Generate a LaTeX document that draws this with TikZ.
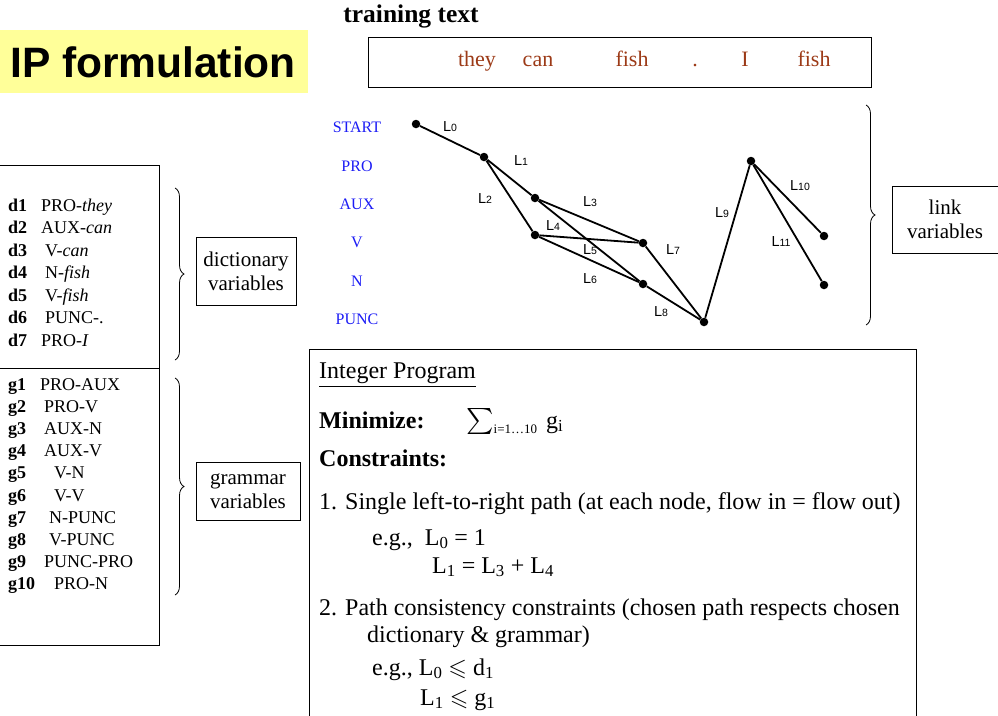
\RequirePackage{fix-cm}
\documentclass[tikz,border=0pt]{standalone}
\usepackage{amssymb}
\usepackage{fontspec}
\setmainfont{Liberation Serif}
\setsansfont{Liberation Sans}
\usetikzlibrary{decorations.pathreplacing}
\definecolor{hilite}{HTML}{FFFF99}
\definecolor{wordred}{HTML}{9C3A17}
\definecolor{tagblue}{HTML}{1C1CF5}
\newcommand{\fsz}[1]{\fontsize{#1}{#1}\selectfont}
\newcommand{\lnk}[1]{L{\fsz{10.5}#1}}

\begin{document}
\begin{tikzpicture}[x=1pt,y=-1pt,
  font=\fsz{18},
  box/.style={draw,line width=0.8pt,inner sep=0pt},
  varbox/.style={draw,line width=0.8pt,align=center,
    font=\fontsize{21}{24}\selectfont},
  wordtxt/.style={anchor=base,text=wordred,font=\fsz{22}},
  tagname/.style={anchor=base,text=tagblue,font=\fsz{16}},
  dot/.style={circle,fill=black,inner sep=0pt,minimum size=8.5pt},
  link/.style={line width=1.8pt},
  linklabel/.style={font=\sffamily\fsz{14.5}},
  bracket/.style={decorate,decoration={brace,amplitude=9pt},line width=0.8pt},
  entry/.style={anchor=base west,inner sep=0pt},
  prog/.style={anchor=base west,inner sep=0pt,font=\fsz{24}}
]
\useasboundingbox (0,0) rectangle (998,715);

% title and training text
\node[fill=hilite,minimum width=308pt,minimum height=63pt,inner sep=0pt] (titlebg) at (154,61.5) {};
\node[anchor=base west,inner sep=0pt,font=\sffamily\bfseries\fsz{42.5}] (title) at (10,77) {IP formulation};
\node[anchor=base,font=\bfseries\fsz{25.5}] (caption) at (411,22) {training text};
\node[box,minimum width=503pt,minimum height=50pt] (textbox) at (619.5,62) {};
\foreach \w/\x [count=\i] in {they/477,can/538,fish/632,./695,I/745,fish/814}
  \node[wordtxt] (w\i) at (\x,66) {\w};

% tag rows
\foreach \t/\y in {START/132,PRO/171,AUX/209,V/247,N/286,PUNC/324}
  \node[tagname] (tag\t) at (357,\y) {\t};

% lattice
\node[dot] (start) at (416,124) {};
\node[dot] (pro) at (484,157) {};
\node[dot] (aux) at (535,198) {};
\node[dot] (verb) at (535,235) {};
\node[dot] (verbb) at (643,243) {};
\node[dot] (noun) at (643,284) {};
\node[dot] (punc) at (704,322) {};
\node[dot] (prob) at (751,161) {};
\node[dot] (verbc) at (824,236) {};
\node[dot] (nounb) at (824,285) {};
\draw[link] (start) -- (pro);
\draw[link] (pro) -- (aux);
\draw[link] (pro) -- (verb);
\draw[link] (aux) -- (verbb);
\draw[link] (verb) -- (verbb);
\draw[link] (aux) -- (noun);
\draw[link] (verb) -- (noun);
\draw[link] (verbb) -- (punc);
\draw[link] (noun) -- (punc);
\draw[link] (punc) -- (prob);
\draw[link] (prob) -- (verbc);
\draw[link] (prob) -- (nounb);
\node[linklabel] (l0) at (450,127) {\lnk{0}};
\node[linklabel] (l1) at (521,161) {\lnk{1}};
\node[linklabel] (l2) at (485,199) {\lnk{2}};
\node[linklabel] (l3) at (590,202) {\lnk{3}};
\node[linklabel] (l4) at (553,226) {\lnk{4}};
\node[linklabel] (l5) at (590,250) {\lnk{5}};
\node[linklabel] (l6) at (590,279) {\lnk{6}};
\node[linklabel] (l7) at (673,250) {\lnk{7}};
\node[linklabel] (l8) at (661,312) {\lnk{8}};
\node[linklabel] (l9) at (722,213) {\lnk{9}};
\node[linklabel] (l10) at (800,186) {\lnk{10}};
\node[linklabel] (l11) at (781,242) {\lnk{11}};

\draw[bracket] (866,105) -- (866,325);
\node[varbox,minimum width=106pt,minimum height=67pt] (linkbox) at (945,219.5) {link\\variables};

% variable list
\node[box,minimum width=170pt,minimum height=480pt,anchor=north east] (varlist) at (160,165) {};
\coordinate (split) at (0,368);
\draw[line width=0.8pt] (varlist.west |- split) -- (varlist.east |- split);
\foreach \v/\e/\x [count=\i from 0] in {d1/PRO-\textit{they}/41,d2/AUX-\textit{can}/41,
    d3/V-\textit{can}/45,d4/N-\textit{fish}/45,d5/V-\textit{fish}/45,d6/PUNC-./45,d7/PRO-\textit{I}/41}
  {\node[entry,font=\bfseries\fsz{18}] (dv\i) at (8,{211+22.5*\i}) {\v};
   \node[entry] (de\i) at (\x,{211+22.5*\i}) {\e};}
\foreach \v/\e/\x [count=\i from 0] in {g1/PRO-AUX/40,g2/PRO-V/44,g3/AUX-N/44,g4/AUX-V/44,
    g5/V-N/54,g6/V-V/54,g7/N-PUNC/49,g8/V-PUNC/49,g9/PUNC-PRO/44,g10/PRO-N/54}
  {\node[entry,font=\bfseries\fsz{18}] (gv\i) at (8,{390+22.2*\i}) {\v};
   \node[entry] (ge\i) at (\x,{390+22.2*\i}) {\e};}

\draw[bracket] (175,188) -- (175,360);
\draw[bracket] (175,378) -- (175,595);
\node[varbox,minimum width=100pt,minimum height=68pt] (dictbox) at (246,271) {dictionary\\variables};
\node[varbox,minimum width=104pt,minimum height=58pt] (grambox) at (248,491) {grammar\\variables};

% integer program
\node[box,minimum width=607pt,minimum height=380pt,anchor=north west] (program) at (309,349) {};
\node[prog] (iphead) at (319,378) {\underline{Integer Program}};
\node[prog,font=\bfseries\fsz{24}] (minlabel) at (319,428) {Minimize:};
\node[prog] (objective) at (466,428)
  {{\fsz{26}$\sum$}\raisebox{-5pt}{\fsz{13}i=1…10}\hspace{9pt}g\textsubscript{i}};
\node[prog,font=\bfseries\fsz{24}] (conlabel) at (319,466) {Constraints:};
\node[prog] (conone) at (319,509) {1. Single left-to-right path (at each node, flow in = flow out)};
\node[prog] (egone) at (372,545) {e.g.,\ \ L\textsubscript{0} = 1};
\node[prog] (egoneb) at (432,573) {L\textsubscript{1} = L\textsubscript{3} + L\textsubscript{4}};
\node[prog] (contwo) at (319,615) {2. Path consistency constraints (chosen path respects chosen};
\node[prog] (contwob) at (367,642) {dictionary \& grammar)};
\node[prog] (egtwo) at (372,675) {e.g., L\textsubscript{0} $\leqslant$ d\textsubscript{1}};
\node[prog] (egtwob) at (420,705) {L\textsubscript{1} $\leqslant$ g\textsubscript{1}};
\end{tikzpicture}
\end{document}
